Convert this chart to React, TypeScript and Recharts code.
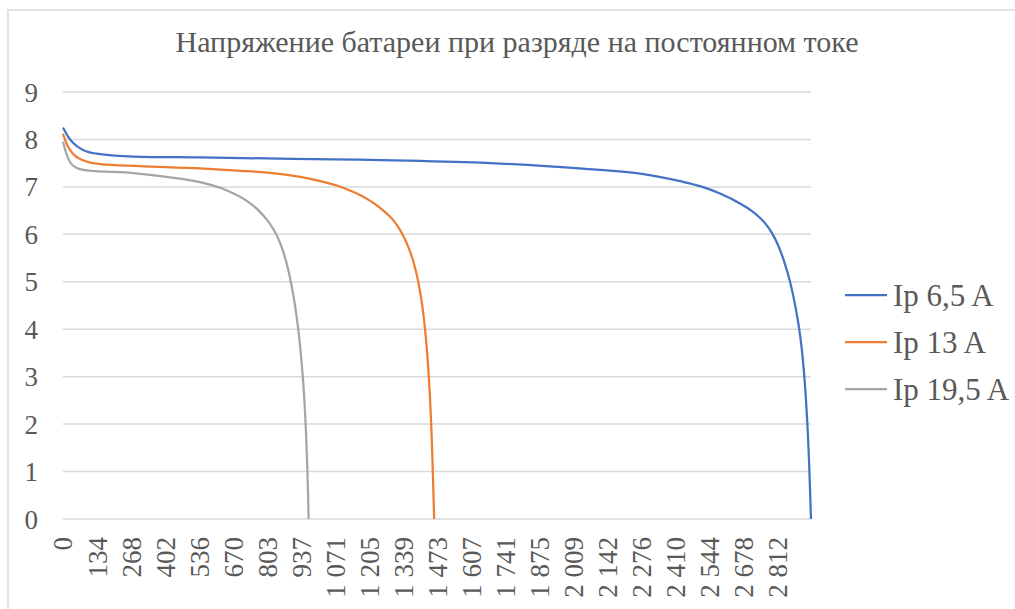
import { LineChart, Line, XAxis, YAxis, CartesianGrid } from 'recharts';

const title = 'Напряжение батареи при разряде на постоянном токе';

// discharge time, labelled category steps
const timeTicks = [0, 134, 268, 402, 536, 670, 803, 937, 1071, 1205, 1339, 1473, 1607, 1741, 1875, 2009, 2142, 2276, 2410, 2544, 2678, 2812];
const voltTicks = [0, 1, 2, 3, 4, 5, 6, 7, 8, 9];

// Ip 6,5 A
const t65 = [0, 20, 39, 79, 146, 276, 539, 1063, 1300, 1642, 1900, 2112, 2270, 2427, 2515, 2584, 2663, 2710, 2741, 2765, 2787, 2810, 2835, 2859, 2878, 2896, 2906, 2914, 2921, 2927, 2931, 2935, 2939, 2942];
const v65 = [8.25, 8.06, 7.93, 7.78, 7.69, 7.64, 7.62, 7.58, 7.56, 7.51, 7.44, 7.36, 7.28, 7.12, 7.0, 6.86, 6.65, 6.49, 6.35, 6.21, 6.04, 5.8, 5.45, 5.01, 4.55, 3.99, 3.57, 3.12, 2.62, 2.08, 1.64, 1.12, 0.48, 0];

// Ip 13 A
const t13 = [0, 15, 39, 79, 146, 300, 539, 700, 803, 933, 1020, 1077, 1130, 1168, 1210, 1247, 1275, 1299, 1320, 1340, 1360, 1380, 1395, 1410, 1420, 1430, 1437, 1443, 1448, 1452, 1455, 1458, 1460];
const v13 = [8.12, 7.9, 7.7, 7.56, 7.48, 7.44, 7.39, 7.34, 7.3, 7.21, 7.11, 7.03, 6.92, 6.83, 6.7, 6.56, 6.43, 6.3, 6.14, 5.95, 5.71, 5.39, 5.06, 4.61, 4.2, 3.65, 3.15, 2.6, 2.02, 1.44, 0.92, 0.33, 0];

// Ip 19,5 A
const t195 = [0, 12, 28, 54, 93, 276, 408, 539, 643, 735, 770, 800, 825, 845, 862, 880, 899, 912, 925, 935, 943, 950, 955, 960, 963, 966];
const v195 = [7.95, 7.72, 7.52, 7.4, 7.35, 7.29, 7.21, 7.1, 6.93, 6.66, 6.5, 6.32, 6.13, 5.93, 5.7, 5.38, 4.92, 4.52, 4.01, 3.51, 3.01, 2.45, 1.92, 1.22, 0.68, 0];

const toRows = (t: number[], v: number[]) => t.map((x, i) => ({ t: x, v: v[i] }));

const series = [
  { name: 'Ip 6,5 A', color: '#4472C4', data: toRows(t65, v65) },
  { name: 'Ip 13 A', color: '#ED7D31', data: toRows(t13, v13) },
  { name: 'Ip 19,5 A', color: '#A5A5A5', data: toRows(t195, v195) },
];

const FONT = '"Liberation Serif", "DejaVu Serif", serif';
const TEXT = '#595959';

const fmt = (v: number) => String(v).replace(/\B(?=(\d{3})+(?!\d))/g, ' ');

const TimeTick = (props: any) => {
  const { x, y, payload } = props;
  return (
    <text
      x={x}
      y={y}
      transform={`rotate(-90, ${x}, ${y})`}
      textAnchor="end"
      dy="0.35em"
      fill={TEXT}
      style={{ fontSize: 27, fontFamily: FONT }}
    >
      {fmt(payload.value)}
    </text>
  );
};

export default function App() {
  return (
    <div style={{ position: 'absolute', left: 0, top: 0, width: 1015, height: 609, background: '#fff', overflow: 'hidden' }}>
      <LineChart
        width={1015}
        height={609}
        margin={{ top: 92, right: 204, left: 0, bottom: 0 }}
      >
        <CartesianGrid horizontal vertical={false} stroke="#d9d9d9" strokeWidth={1.5} />
        <XAxis
          dataKey="t"
          type="number"
          domain={[0, 2942]}
          ticks={timeTicks}
          interval={0}
          height={90}
          axisLine={false}
          tickLine={false}
          tick={<TimeTick />}
          tickMargin={12}
          allowDuplicatedCategory={false}
        />
        <YAxis
          type="number"
          domain={[0, 9]}
          ticks={voltTicks}
          width={63}
          axisLine={false}
          tickLine={false}
          tickMargin={19}
          tick={{ fill: TEXT, fontSize: 27, style: { fontFamily: FONT } }}
        />
        {series.map((s) => (
          <Line
            key={s.name}
            data={s.data}
            dataKey="v"
            name={s.name}
            type="monotone"
            stroke={s.color}
            strokeWidth={2.25}
            dot={false}
            isAnimationActive={false}
          />
        ))}
      </LineChart>

      {/* frame, title and legend */}
      <svg
        width={1015}
        height={609}
        style={{ position: 'absolute', left: 0, top: 0, pointerEvents: 'none' }}
      >
        <rect x={8} y={10} width={1100} height={700} fill="none" stroke="#d9d9d9" strokeWidth={1.5} />
        <text x={517} y={52} textAnchor="middle" fill={TEXT} style={{ fontSize: 30, fontFamily: FONT }}>
          {title}
        </text>
        {series.map((s, i) => {
          const cy = 295 + i * 47;
          return (
            <g key={s.name}>
              <line x1={845} x2={887} y1={cy} y2={cy} stroke={s.color} strokeWidth={2.25} />
              <text x={893} y={cy} dy="0.35em" fill={TEXT} style={{ fontSize: 31, fontFamily: FONT }}>
                {s.name}
              </text>
            </g>
          );
        })}
      </svg>
    </div>
  );
}
